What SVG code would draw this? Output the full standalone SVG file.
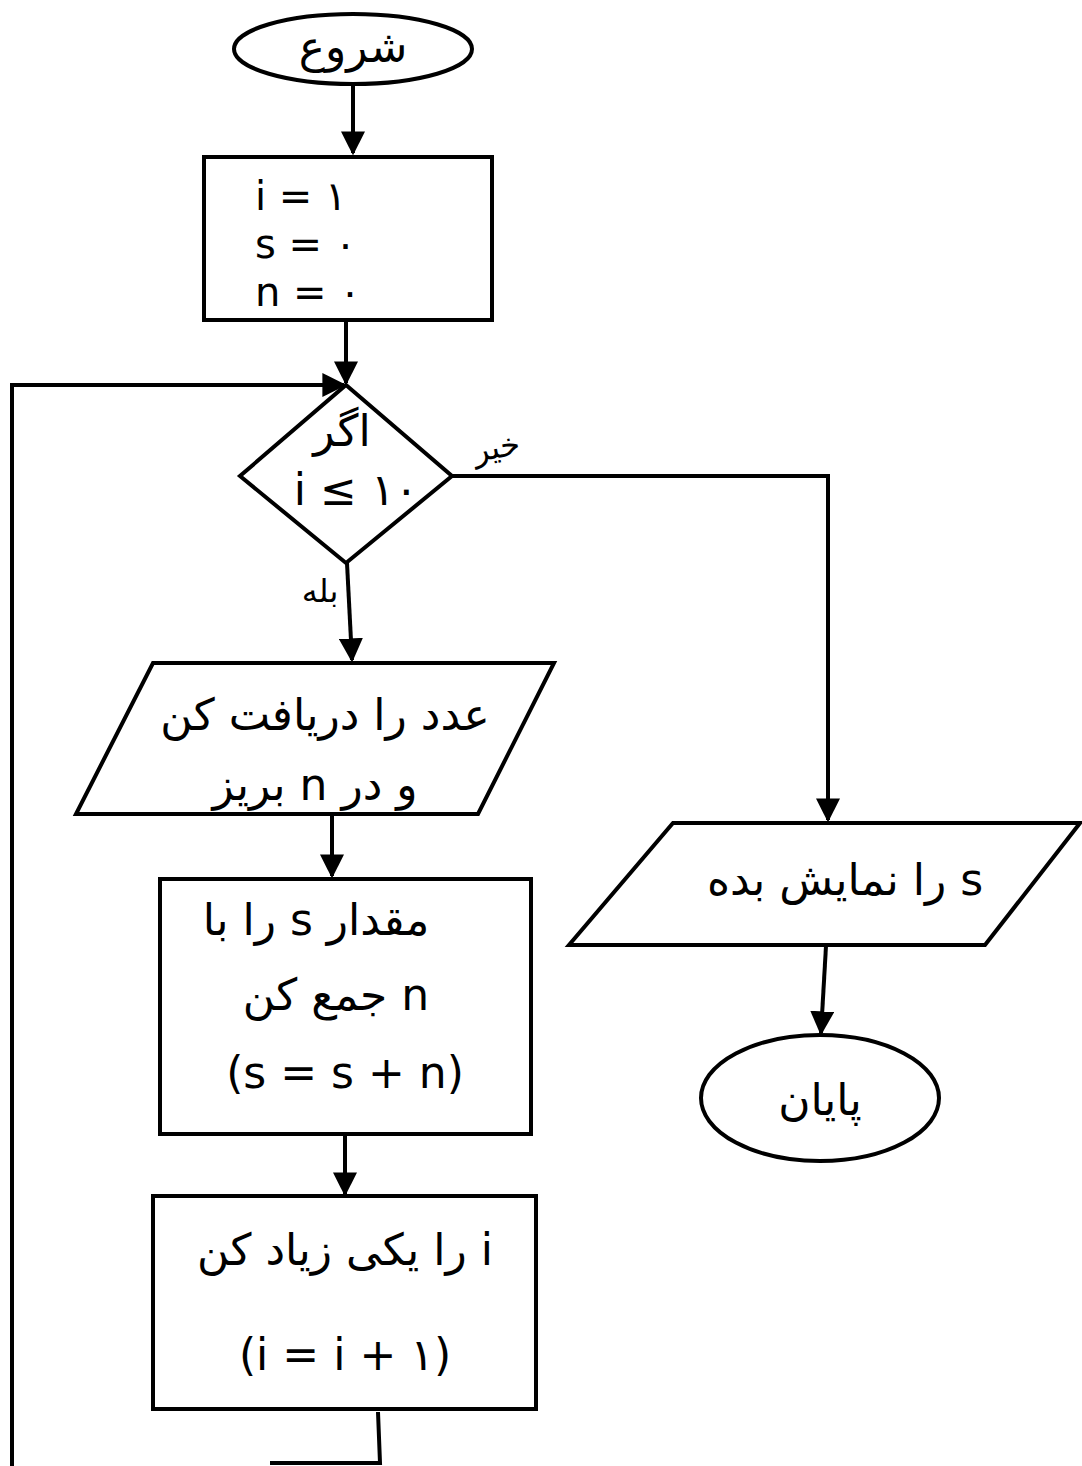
<svg xmlns="http://www.w3.org/2000/svg" width="1082" height="1466" viewBox="0 0 1082 1466">
<defs>
<marker id="ah" viewBox="0 0 10 10" refX="9" refY="5" markerWidth="6" markerHeight="6" markerUnits="strokeWidth" orient="auto">
<path d="M0,0 L10,5 L0,10 z" fill="#000"/>
</marker>
<style>
.sh{fill:#fff;stroke:#000;stroke-width:4}
.ln{fill:none;stroke:#000;stroke-width:4}
.ar{fill:none;stroke:#000;stroke-width:4;marker-end:url(#ah)}
.t{font-family:"DejaVu Sans","Noto Sans",sans-serif;font-size:44px;fill:#000;text-anchor:middle}
.rtl{direction:rtl;unicode-bidi:embed}
.eq{font-family:"DejaVu Sans","Noto Sans",sans-serif;font-size:40px;fill:#000}
.lb{font-family:"DejaVu Sans","Noto Sans",sans-serif;font-size:32px;fill:#000;text-anchor:middle}
</style>
</defs>
<rect width="1082" height="1466" fill="#fff"/>
<g id="connectors">
<line class="ar" x1="353" y1="85" x2="353" y2="153"/>
<line class="ar" x1="346" y1="320" x2="346" y2="383"/>
<polyline class="ar" points="12,1466 12,385 344,385"/>
<polyline class="ar" points="452,476 828,476 828,820"/>
<line class="ar" x1="347" y1="563" x2="352" y2="660"/>
<line class="ar" x1="332" y1="815" x2="332" y2="876"/>
<line class="ar" x1="345" y1="1135" x2="345" y2="1194"/>
<polyline class="ln" points="378,1412 380,1463 270,1463"/>
<line class="ar" x1="826" y1="946" x2="821" y2="1033"/>
</g>
<g id="start">
<ellipse class="sh" cx="353" cy="49" rx="119" ry="35"/>
<text class="t rtl" x="353" y="62">شروع</text>
</g>
<g id="init">
<rect class="sh" x="204" y="157" width="288" height="163"/>
<text class="eq" x="255" y="210">i = ۱</text>
<text class="eq" x="255" y="258">s = ۰</text>
<text class="eq" x="255" y="306">n = ۰</text>
</g>
<g id="decision">
<polygon class="sh" points="346,385 452,476 346,563 240,476"/>
<text class="t rtl" x="342" y="446" font-size="36">اگر</text>
<text class="t" x="356" y="505" font-size="40">i ≤ ۱۰</text>
</g>
<text class="lb rtl" x="497" y="458" transform="rotate(-10 497 450)">خیر</text>
<text class="lb rtl" x="320" y="602">بله</text>
<g id="input">
<polygon class="sh" points="153,663 554,663 478,814 76,814"/>
<text class="t rtl" x="325" y="730">عدد را دریافت کن</text>
<text class="t rtl" x="315" y="800">و در n بریز</text>
</g>
<g id="sum">
<rect class="sh" x="160" y="879" width="371" height="255"/>
<text class="t rtl" x="316" y="935">مقدار s را با</text>
<text class="t rtl" x="336" y="1010">n جمع کن</text>
<text class="t" x="345" y="1088" font-size="50">(s = s + n)</text>
</g>
<g id="increment">
<rect class="sh" x="153" y="1196" width="383" height="213"/>
<text class="t rtl" x="345" y="1265">i را یکی زیاد کن</text>
<text class="t" x="345" y="1370" font-size="54">(i = i + ۱)</text>
</g>
<g id="output">
<polygon class="sh" points="673,823 1080,823 985,945 569,945"/>
<text class="t rtl" x="845" y="895">s را نمایش بده</text>
</g>
<g id="end">
<ellipse class="sh" cx="820" cy="1098" rx="119" ry="63"/>
<text class="t rtl" x="820" y="1115">پایان</text>
</g>
</svg>
